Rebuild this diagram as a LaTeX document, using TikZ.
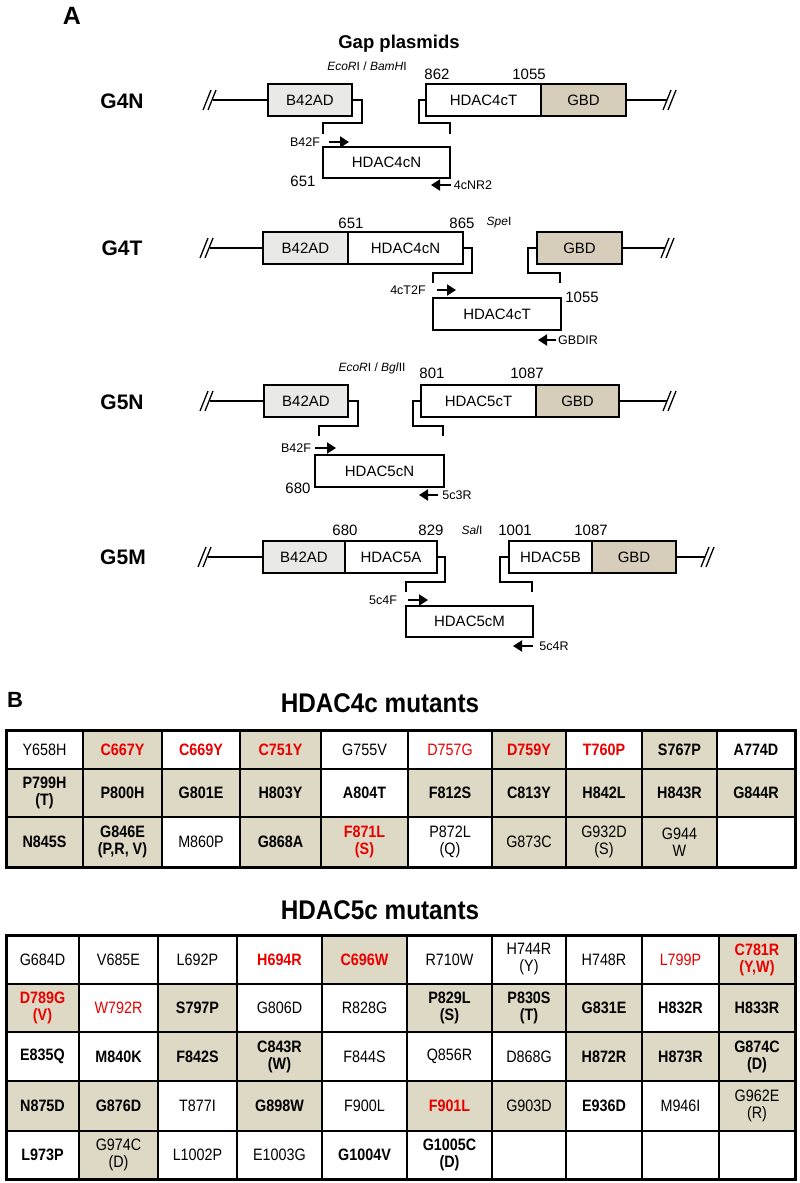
\documentclass[tikz,border=0pt]{standalone}
\usepackage{fontspec}
\setmainfont{Liberation Sans}
\newfontfamily\narrowf[FakeStretch=0.87]{Liberation Sans}
\newfontfamily\titlef[FakeStretch=0.9]{Liberation Sans}
\usetikzlibrary{arrows.meta}
\definecolor{tancell}{RGB}{221,217,196}
\definecolor{gbdfill}{RGB}{214,206,186}
\definecolor{adfill}{RGB}{233,233,231}
\definecolor{mred}{RGB}{235,0,0}
\def\cA{6,83,162,240,321,408,492,566,642,717,795}
\def\rA{730,769,817,867}
\def\cB{6,79,158,237,322,407,492,566,642,719,795}
\def\rB{935,984,1032,1081,1131,1179}
\newcommand\trow[5]{%
  \foreach \st/\tx [count=\i from 0] in {#5} {
    \pgfmathsetmacro\xa{{#2}[\i]}
    \pgfmathsetmacro\xb{{#2}[\i+1]}
    \pgfmathsetmacro\ya{{#3}[#4]}
    \pgfmathsetmacro\yb{{#3}[#4+1]}
    \pgfmathsetmacro\ww{\xb-\xa}
    \pgfmathsetmacro\hh{\yb-\ya}
    \node[\st, minimum width=\ww pt, minimum height=\hh pt] (#1-#4-\i) at ({(\xa+\xb)/2},{(\ya+\yb)/2}) {\tx};
  }}
\begin{document}
\begin{tikzpicture}[x=1pt,y=-1pt,
  gbox/.style={draw, line width=2.4pt, minimum height=32pt, inner sep=0pt, outer sep=0pt, font=\fontsize{15}{15}\selectfont, anchor=west},
  ad/.style={gbox, fill=adfill},
  gbd/.style={gbox, fill=gbdfill},
  plas/.style={line width=1.4pt},
  stub/.style={line width=1.6pt},
  parr/.style={line width=1.9pt, -{Triangle[length=9pt,width=11pt]}},
  num/.style={font=\fontsize{15}{15}\selectfont, inner sep=0pt},
  prim/.style={font=\fontsize{12.5}{12.5}\selectfont, inner sep=0pt},
  enz/.style={font=\fontsize{12}{12}\selectfont, inner sep=0pt},
  rowlbl/.style={font=\fontsize{21}{21}\selectfont\bfseries, inner sep=0pt},
  title/.style={font=\titlef\fontsize{27}{27}\selectfont\bfseries, inner sep=0pt},
  brk/.pic={\draw[line width=1.3pt] (-7,10) -- (1,-10) (-2,10) -- (6,-10);},
  cellbase/.style={draw, line width=2pt, inner sep=0pt, outer sep=0pt, align=center},
  fr/.style={font=\narrowf\fontsize{16.5}{17}\selectfont},
  fb/.style={font=\narrowf\bfseries\fontsize{16.5}{17}\selectfont},
  tw/.style={cellbase, fill=white, fr},
  twb/.style={cellbase, fill=white, fb},
  twr/.style={cellbase, fill=white, fr, text=mred},
  twbr/.style={cellbase, fill=white, fb, text=mred},
  ts/.style={cellbase, fill=tancell, fr},
  tsb/.style={cellbase, fill=tancell, fb},
  tsr/.style={cellbase, fill=tancell, fr, text=mred},
  tsbr/.style={cellbase, fill=tancell, fb, text=mred}
]
\path[use as bounding box] (0,0) rectangle (800,1183);

% ---------- Panel A ----------
\node[font=\fontsize{25}{25}\selectfont\bfseries, inner sep=0pt] (lA) at (72,16) {A};
\node[font=\fontsize{18.5}{18.5}\selectfont\bfseries, inner sep=0pt] (tgap) at (399,44) {Gap plasmids};

% G4N
\node[rowlbl] (g4n) at (122,101) {G4N};
\node[enz] (e1) at (367,66) {\textit{EcoR}I / \textit{BamH}I};
\node[num] (n862) at (437,74) {862};
\node[num] (n1055a) at (529,74) {1055};
\node[ad, minimum width=84pt] (a1) at (268,100) {B42AD};
\node[gbox, minimum width=115pt] (t1) at (426,100) {HDAC4cT};
\node[gbd, minimum width=85pt] (g1) at (541,100) {GBD};
\pic at (210,100) {brk};
\pic at (670,100) {brk};
\coordinate (l1) at (213,100);
\coordinate (r1) at (667,100);
\draw[plas] (l1) -- (a1.west);
\draw[plas] (g1.east) -- (r1);
\draw[stub] (a1.east) -- ++(10,0) -- ++(0,23) -- ++(-39,0) -- ++(0,11);
\draw[stub] (t1.west) -- ++(-7,0) -- ++(0,23) -- ++(31,0) -- ++(0,11);
\node[gbox, minimum width=127pt, minimum height=31pt] (c1) at (323,162.5) {HDAC4cN};
\node[prim] (p1f) at (305,142) {B42F};
\draw[parr] (329,142) -- (349,142);
\node[num] (n651a) at (303,181) {651};
\draw[parr] (451,185) -- (431,185);
\node[prim] (p1r) at (473,185) {4cNR2};

% G4T
\node[rowlbl] (g4t) at (122,248) {G4T};
\node[num] (n651b) at (351,223) {651};
\node[num] (n865) at (462,223) {865};
\node[enz] (e2) at (499,223) {\textit{Spe}I};
\node[ad, minimum width=85pt] (a2) at (263,248) {B42AD};
\node[gbox, minimum width=115pt] (t2) at (348,248) {HDAC4cN};
\node[gbd, minimum width=85pt] (g2) at (537,248) {GBD};
\pic at (207,248) {brk};
\pic at (668,248) {brk};
\coordinate (l2) at (210,248);
\coordinate (r2) at (665,248);
\draw[plas] (l2) -- (a2.west);
\draw[plas] (g2.east) -- (r2);
\draw[stub] (t2.east) -- ++(9,0) -- ++(0,25) -- ++(-39,0) -- ++(0,10);
\draw[stub] (g2.west) -- ++(-9,0) -- ++(0,25) -- ++(32,0) -- ++(0,10);
\node[prim] (p2f) at (408,290) {4cT2F};
\draw[parr] (437,290) -- (456,290);
\node[num] (n1055b) at (582,297) {1055};
\node[gbox, minimum width=128pt] (c2) at (433,314) {HDAC4cT};
\draw[parr] (556,340) -- (538,340);
\node[prim] (p2r) at (578,340) {GBDIR};

% G5N
\node[rowlbl] (g5n) at (122,402) {G5N};
\node[enz] (e3) at (372,368) {\textit{EcoR}I / \textit{Bgl}II};
\node[num] (n801) at (432,373) {801};
\node[num] (n1087a) at (527,373) {1087};
\node[ad, minimum width=84pt] (a3) at (264,401) {B42AD};
\node[gbox, minimum width=115pt] (t3) at (421,401) {HDAC5cT};
\node[gbd, minimum width=83pt] (g3) at (536,401) {GBD};
\pic at (207,401) {brk};
\pic at (670,401) {brk};
\coordinate (l3) at (210,401);
\coordinate (r3) at (667,401);
\draw[plas] (l3) -- (a3.west);
\draw[plas] (g3.east) -- (r3);
\draw[stub] (a3.east) -- ++(10,0) -- ++(0,25) -- ++(-39,0) -- ++(0,10);
\draw[stub] (t3.west) -- ++(-8,0) -- ++(0,25) -- ++(30,0) -- ++(0,10);
\node[prim] (p3f) at (296,448) {B42F};
\draw[parr] (315,448) -- (336,448);
\node[gbox, minimum width=129pt] (c3) at (315,471) {HDAC5cN};
\node[num] (n680a) at (298,488) {680};
\draw[parr] (438,495) -- (419,495);
\node[prim] (p3r) at (457,495) {5c3R};

% G5M
\node[rowlbl] (g5m) at (123,557) {G5M};
\node[num] (n680b) at (345,530) {680};
\node[num] (n829) at (431,530) {829};
\node[enz] (e4) at (472,530) {\textit{Sal}I};
\node[num] (n1001) at (515,530) {1001};
\node[num] (n1087b) at (591,530) {1087};
\node[ad, minimum width=82pt] (a4) at (263,557) {B42AD};
\node[gbox, minimum width=92pt] (m4) at (345,557) {HDAC5A};
\node[gbox, minimum width=83pt] (t4) at (509,557) {HDAC5B};
\node[gbd, minimum width=84pt] (g4) at (592,557) {GBD};
\pic at (205,557) {brk};
\pic at (708,557) {brk};
\coordinate (l4) at (208,557);
\coordinate (r4) at (705,557);
\draw[plas] (l4) -- (a4.west);
\draw[plas] (g4.east) -- (r4);
\draw[stub] (m4.east) -- ++(8,0) -- ++(0,25) -- ++(-39,0) -- ++(0,10);
\draw[stub] (t4.west) -- ++(-9,0) -- ++(0,25) -- ++(32,0) -- ++(0,10);
\node[prim] (p4f) at (383,600) {5c4F};
\draw[parr] (408,600) -- (428,600);
\node[gbox, minimum width=127pt, minimum height=31pt] (c4) at (406,621.5) {HDAC5cM};
\draw[parr] (533,646) -- (513,646);
\node[prim] (p4r) at (554,646) {5c4R};

% ---------- Panel B ----------
\node[font=\fontsize{22}{22}\selectfont\bfseries, inner sep=0pt] (lB) at (15,700) {B};
\node[title] (tA) at (380,703) {HDAC4c mutants};
\node[title] (tB) at (380,910) {HDAC5c mutants};

\trow{ta}{\cA}{\rA}{0}{tw/Y658H, tsbr/C667Y, twbr/C669Y, tsbr/C751Y, tw/G755V, twr/D757G, tsbr/D759Y, twbr/T760P, tsb/S767P, twb/A774D}
\trow{ta}{\cA}{\rA}{1}{tsb/{P799H\\(T)}, tsb/P800H, tsb/G801E, tsb/H803Y, twb/A804T, tsb/F812S, tsb/C813Y, tsb/H842L, tsb/H843R, tsb/G844R}
\trow{ta}{\cA}{\rA}{2}{tsb/N845S, tsb/{G846E\\(P,R, V)}, tw/M860P, tsb/G868A, tsbr/{F871L\\(S)}, tw/{P872L\\(Q)}, ts/G873C, ts/{G932D\\(S)}, ts/{G944\\W}, tw/{}}
\draw[line width=3pt] (ta-0-0.north west) rectangle (ta-2-9.south east);

\trow{tb}{\cB}{\rB}{0}{tw/G684D, tw/V685E, tw/L692P, twbr/H694R, tsbr/C696W, tw/R710W, tw/{H744R\\(Y)}, tw/H748R, twr/L799P, tsbr/{C781R\\(Y,W)}}
\trow{tb}{\cB}{\rB}{1}{tsbr/{D789G\\(V)}, twr/W792R, tsb/S797P, tw/G806D, tw/R828G, tsb/{P829L\\(S)}, tsb/{P830S\\(T)}, tsb/G831E, twb/H832R, tsb/H833R}
\trow{tb}{\cB}{\rB}{2}{twb/E835Q, twb/M840K, tsb/F842S, tsb/{C843R\\(W)}, tw/F844S, tw/Q856R, tw/D868G, tsb/H872R, tsb/H873R, tsb/{G874C\\(D)}}
\trow{tb}{\cB}{\rB}{3}{tsb/N875D, tsb/G876D, tw/T877I, tsb/G898W, tw/F900L, tsbr/F901L, ts/G903D, twb/E936D, tw/M946I, ts/{G962E\\(R)}}
\trow{tb}{\cB}{\rB}{4}{twb/L973P, ts/{G974C\\(D)}, tw/L1002P, tw/E1003G, twb/G1004V, twb/{G1005C\\(D)}, tw/{}, tw/{}, tw/{}, tw/{}}
\draw[line width=3pt] (tb-0-0.north west) rectangle (tb-4-9.south east);
\end{tikzpicture}
\end{document}
